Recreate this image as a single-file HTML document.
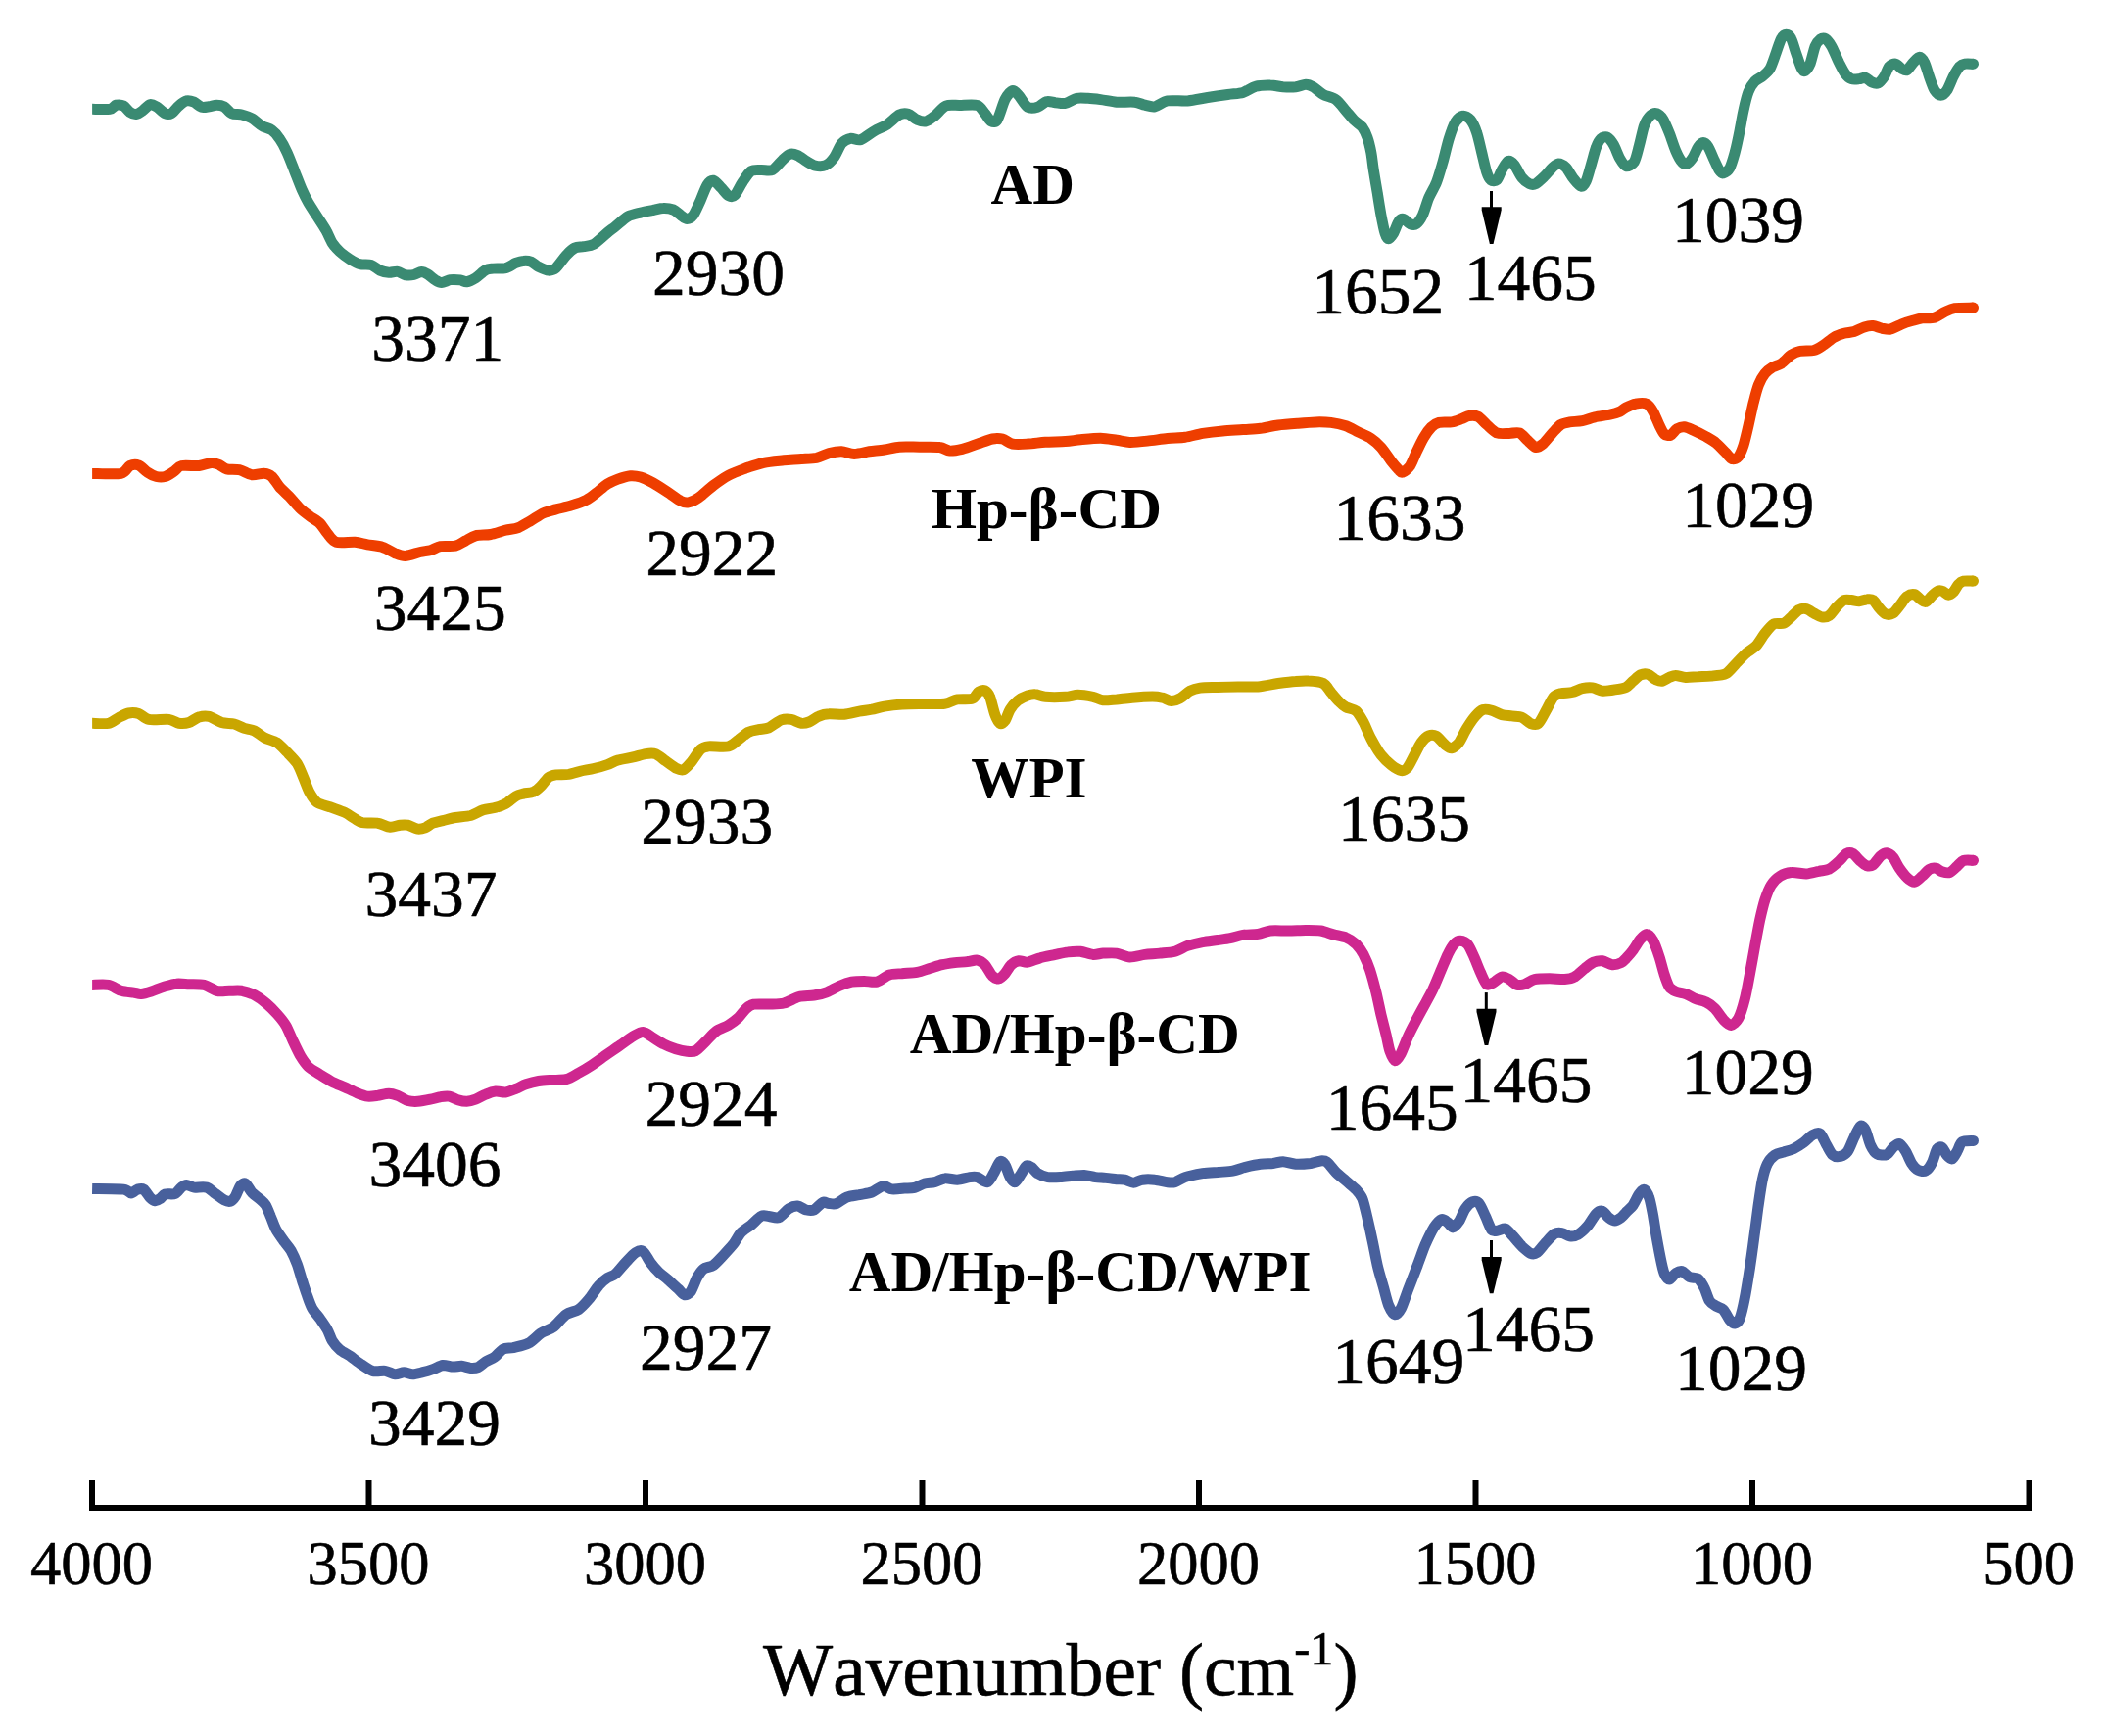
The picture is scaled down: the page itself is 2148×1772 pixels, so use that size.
<!DOCTYPE html>
<html lang="en"><head><meta charset="utf-8"><title>FTIR spectra</title>
<style>html,body{margin:0;padding:0;background:#fff}svg{display:block}</style></head>
<body>
<svg width="2148" height="1772" viewBox="0 0 2148 1772">
<rect width="2148" height="1772" fill="#fff"/>
<g fill="none" stroke-width="11" stroke-linejoin="round" stroke-linecap="butt">
<path stroke="#3A8A72" d="M94.1 111.3C96.6 111.3 108.7 111.9 112.1 111.3C115.5 110.8 116.5 107.7 118.5 107.2C120.5 106.8 124.2 107.0 126.2 108.0C128.2 109.0 130.8 113.2 132.6 114.4C134.4 115.6 137.2 116.7 139.0 116.5C140.8 116.3 143.5 114.5 145.4 113.1C147.4 111.8 151.2 107.3 153.1 106.7C155.1 106.1 157.4 107.5 159.6 108.8C161.7 110.0 166.4 114.7 168.5 115.7C170.7 116.7 173.0 116.8 175.0 115.7C176.9 114.6 180.5 109.8 182.7 108.0C184.8 106.2 188.2 103.4 190.4 102.9C192.5 102.3 195.9 103.3 198.1 104.2C200.2 105.1 203.6 108.6 205.8 109.3C207.9 109.9 211.3 109.1 213.5 108.8C215.6 108.5 219.0 107.2 221.2 107.2C223.3 107.2 226.7 107.6 228.9 108.8C231.0 110.0 234.0 114.6 236.6 115.7C239.1 116.9 244.0 116.3 246.8 117.0C249.7 117.7 254.2 119.2 257.1 120.8C260.0 122.5 264.5 126.9 267.4 128.5C270.2 130.2 275.1 131.1 277.6 132.9C280.1 134.7 283.2 138.2 285.3 141.4C287.5 144.5 290.9 150.8 293.0 155.5C295.2 160.2 298.6 169.4 300.7 174.7C302.9 180.1 306.4 189.5 308.4 194.0C310.4 198.5 312.7 203.1 314.8 206.8C317.0 210.6 321.3 217.0 323.8 220.9C326.3 224.9 330.6 231.3 332.8 235.1C335.0 238.8 337.2 244.8 339.2 247.9C341.2 250.9 344.4 254.5 346.9 256.9C349.4 259.2 354.3 262.8 357.2 264.6C360.1 266.4 364.4 268.9 367.5 269.7C370.5 270.5 376.1 269.6 379.0 270.5C381.9 271.4 385.5 275.0 388.0 276.1C390.5 277.2 394.5 278.0 397.0 278.2C399.5 278.4 403.6 277.0 406.0 277.4C408.3 277.8 411.3 280.3 413.7 280.7C416.0 281.2 420.3 281.0 422.6 280.5C425.0 280.0 428.4 277.5 430.3 277.4C432.3 277.3 434.8 278.8 436.7 280.0C438.7 281.2 442.5 284.7 444.4 285.9C446.4 287.1 448.7 288.5 450.9 288.4C453.0 288.4 457.2 286.0 459.8 285.6C462.5 285.3 467.8 285.6 470.1 285.9C472.4 286.2 474.4 288.0 476.5 287.7C478.7 287.4 482.8 285.5 485.5 283.8C488.2 282.1 493.3 277.0 495.8 275.6C498.3 274.2 500.6 274.4 503.5 274.1C506.4 273.8 513.1 274.3 516.3 273.6C519.5 272.8 524.1 269.4 526.6 268.4C529.1 267.4 532.1 266.5 534.3 266.4C536.4 266.2 539.8 266.3 542.0 267.1C544.1 268.0 547.2 271.0 549.7 272.3C552.2 273.5 557.4 275.9 559.9 276.1C562.5 276.3 565.1 275.7 567.6 273.6C570.2 271.4 575.2 263.6 577.9 260.7C580.6 257.8 584.4 254.3 586.9 253.0C589.4 251.8 593.2 252.3 595.9 251.7C598.6 251.2 602.8 251.1 606.1 249.2C609.5 247.2 616.9 240.1 620.0 237.6C623.1 235.1 625.3 233.5 628.2 231.2C631.2 228.9 637.5 222.9 641.1 220.9C644.7 219.0 650.3 218.0 653.9 217.1C657.5 216.2 663.5 215.2 666.7 214.5C670.0 213.9 674.1 212.5 677.0 212.5C679.9 212.4 684.7 213.0 687.3 214.0C689.8 215.0 693.0 218.3 695.0 219.7C696.9 221.0 699.6 223.5 701.4 223.5C703.2 223.5 706.0 222.0 707.8 219.7C709.6 217.3 712.2 211.1 714.2 206.8C716.2 202.5 719.9 192.0 721.9 188.9C723.9 185.7 726.4 183.9 728.3 184.2C730.3 184.6 733.9 189.3 736.0 191.4C738.2 193.6 741.8 198.6 743.7 199.6C745.7 200.7 748.2 201.0 750.1 199.1C752.1 197.3 755.5 189.7 757.8 186.3C760.2 182.9 764.1 176.5 766.8 174.7C769.5 172.9 774.0 173.6 777.1 173.5C780.1 173.3 785.6 174.9 788.6 173.5C791.7 172.0 796.4 165.5 798.9 163.2C801.4 160.9 804.5 157.9 806.6 157.3C808.8 156.6 812.0 157.6 814.3 158.6C816.6 159.6 820.8 163.0 823.3 164.5C825.8 166.0 829.6 168.5 832.3 169.1C835.0 169.7 839.8 170.0 842.5 168.8C845.2 167.7 849.2 163.8 851.5 160.6C853.9 157.5 856.9 149.2 859.2 146.5C861.6 143.8 865.5 141.9 868.2 141.4C870.9 140.8 875.1 143.7 878.5 142.7C881.9 141.6 888.8 135.8 892.6 133.7C896.4 131.5 901.8 129.6 905.4 127.3C909.0 124.9 915.2 118.5 918.3 117.0C921.3 115.5 924.7 115.5 927.2 116.2C929.7 116.9 933.7 121.1 936.2 122.1C938.7 123.2 942.7 124.5 945.2 123.9C947.7 123.4 951.3 120.5 954.2 118.3C957.1 116.1 962.1 109.5 965.7 108.0C969.3 106.5 975.4 107.6 979.8 107.5C984.3 107.4 994.2 106.4 997.8 107.5C1001.4 108.6 1003.5 113.4 1005.5 115.7C1007.5 118.0 1010.1 123.0 1011.9 123.9C1013.7 124.8 1016.4 125.3 1018.3 122.1C1020.3 119.0 1023.9 105.7 1026.0 101.6C1028.2 97.5 1031.8 93.2 1033.7 92.6C1035.7 92.1 1038.0 95.4 1040.2 97.7C1042.3 100.1 1046.4 107.7 1049.1 109.3C1051.8 110.9 1056.7 110.1 1059.4 109.3C1062.1 108.5 1065.9 104.3 1068.4 103.7C1070.9 103.0 1074.7 104.4 1077.4 104.7C1080.1 104.9 1084.6 106.1 1087.6 105.4C1090.7 104.8 1096.0 101.0 1099.2 100.3C1102.4 99.6 1107.3 100.1 1110.7 100.3C1114.2 100.5 1119.5 101.1 1123.6 101.6C1127.7 102.1 1135.1 103.8 1140.0 104.2C1144.9 104.5 1154.5 103.7 1158.5 104.2C1162.5 104.6 1165.9 106.6 1168.8 107.2C1171.6 107.9 1175.8 109.4 1179.0 108.8C1182.3 108.2 1187.2 103.7 1191.9 102.9C1196.5 102.1 1206.6 103.3 1212.4 102.9C1218.1 102.4 1227.2 100.4 1232.9 99.5C1238.7 98.6 1248.4 97.2 1253.5 96.5C1258.5 95.7 1264.9 95.6 1268.9 94.4C1272.8 93.3 1277.7 89.3 1281.7 88.3C1285.6 87.2 1293.1 86.9 1297.1 87.0C1301.0 87.0 1306.3 88.5 1309.9 88.8C1313.5 89.0 1319.5 89.1 1322.8 88.8C1326.0 88.4 1330.5 86.2 1333.0 86.2C1335.5 86.2 1338.2 87.3 1340.7 88.8C1343.2 90.2 1347.8 94.7 1351.0 96.5C1354.2 98.3 1360.6 99.3 1363.8 101.6C1367.1 103.9 1371.6 110.3 1374.1 113.1C1376.6 116.0 1379.5 119.8 1381.8 122.1C1384.1 124.5 1388.8 127.3 1390.8 129.8C1392.7 132.3 1394.6 136.5 1395.9 140.1C1397.2 143.7 1398.9 150.8 1399.8 155.5C1400.7 160.2 1401.4 167.7 1402.3 173.5C1403.2 179.2 1405.1 190.1 1406.2 196.6C1407.2 203.0 1408.9 213.9 1410.0 219.7C1411.1 225.4 1412.8 234.2 1413.9 237.6C1414.9 241.0 1416.5 243.8 1417.7 243.8C1419.0 243.8 1421.4 240.1 1422.9 237.6C1424.3 235.1 1426.5 228.1 1428.0 226.1C1429.4 224.1 1431.5 223.1 1433.1 223.5C1434.7 223.9 1437.7 227.9 1439.5 228.6C1441.3 229.4 1444.2 229.9 1446.0 228.6C1447.7 227.4 1450.6 223.4 1452.4 219.7C1454.2 215.9 1456.8 206.4 1458.8 201.7C1460.8 197.0 1464.5 191.3 1466.5 186.3C1468.5 181.3 1471.1 172.0 1472.9 165.8C1474.7 159.5 1477.5 147.1 1479.3 141.4C1481.1 135.6 1483.8 127.9 1485.7 124.7C1487.7 121.5 1491.3 118.6 1493.4 118.3C1495.6 117.9 1499.2 119.8 1501.1 122.1C1503.1 124.5 1505.9 130.3 1507.5 135.0C1509.2 139.6 1511.2 149.7 1512.7 155.5C1514.1 161.2 1516.5 172.1 1517.8 176.0C1519.1 180.0 1520.5 182.6 1521.9 183.7C1523.4 184.8 1526.5 185.2 1528.1 183.7C1529.7 182.3 1531.6 176.2 1533.2 173.5C1534.8 170.8 1537.8 165.2 1539.6 164.5C1541.4 163.8 1544.1 166.0 1546.0 168.3C1548.0 170.7 1551.6 178.5 1553.7 181.2C1555.9 183.9 1559.5 186.7 1561.4 187.6C1563.4 188.5 1565.7 188.7 1567.9 187.6C1570.0 186.5 1574.5 182.1 1576.8 179.9C1579.2 177.6 1582.6 173.2 1584.5 171.4C1586.5 169.6 1589.0 167.1 1591.0 167.0C1592.9 167.0 1596.5 168.7 1598.7 170.9C1600.8 173.0 1604.2 179.7 1606.4 182.4C1608.5 185.1 1612.3 189.8 1614.1 190.1C1615.9 190.5 1617.8 188.1 1619.2 185.0C1620.6 182.0 1622.9 173.2 1624.3 168.3C1625.8 163.5 1628.0 154.1 1629.5 150.4C1630.9 146.6 1633.0 142.8 1634.6 141.4C1636.2 139.9 1639.2 139.2 1641.0 140.1C1642.8 141.0 1645.6 144.7 1647.4 147.8C1649.2 150.8 1652.1 158.9 1653.8 161.9C1655.6 165.0 1658.0 169.1 1660.0 169.6C1662.0 170.1 1666.4 168.2 1668.3 165.3C1670.2 162.3 1672.0 153.8 1673.4 148.6C1674.9 143.4 1677.0 132.4 1678.6 128.1C1680.2 123.7 1683.2 119.5 1685.0 117.8C1686.8 116.1 1689.6 115.2 1691.4 115.7C1693.2 116.3 1696.0 118.8 1697.8 121.6C1699.6 124.4 1702.4 131.3 1704.2 135.8C1706.0 140.3 1708.9 149.6 1710.7 153.7C1712.5 157.9 1715.5 163.4 1717.1 165.3C1718.7 167.1 1720.6 167.8 1722.2 167.1C1723.8 166.4 1727.0 162.6 1728.6 160.1C1730.2 157.7 1732.3 151.9 1733.8 149.9C1735.2 147.8 1737.5 145.5 1738.9 145.5C1740.3 145.5 1742.4 147.3 1744.0 149.9C1745.6 152.5 1748.8 160.6 1750.4 164.0C1752.1 167.4 1754.3 172.5 1755.6 174.3C1756.8 176.1 1758.0 177.2 1759.4 176.8C1760.9 176.5 1764.2 174.6 1765.8 171.7C1767.5 168.8 1769.5 161.7 1771.0 156.3C1772.4 150.9 1774.9 139.3 1776.1 133.2C1777.4 127.1 1778.7 118.2 1780.0 112.7C1781.2 107.1 1783.5 97.5 1785.1 93.4C1786.7 89.3 1789.5 85.3 1791.5 83.1C1793.5 81.0 1797.1 79.8 1799.2 78.0C1801.4 76.2 1804.9 73.7 1806.9 70.3C1808.9 66.9 1811.7 57.9 1813.3 53.6C1814.9 49.3 1817.0 42.1 1818.5 39.5C1819.9 36.9 1822.2 35.2 1823.6 35.2C1825.0 35.2 1827.3 36.7 1828.7 39.5C1830.2 42.3 1832.4 50.8 1833.9 54.9C1835.3 59.0 1837.7 66.6 1839.0 69.0C1840.2 71.5 1841.6 72.9 1842.8 72.4C1844.1 71.8 1846.5 68.7 1848.0 65.2C1849.4 61.7 1851.7 50.7 1853.1 47.2C1854.5 43.7 1856.8 41.4 1858.2 40.3C1859.7 39.2 1861.8 38.5 1863.4 39.5C1865.0 40.5 1867.8 43.8 1869.8 47.2C1871.8 50.6 1875.5 59.9 1877.5 63.9C1879.5 67.8 1882.1 73.1 1883.9 75.4C1885.7 77.8 1888.3 79.9 1890.3 80.6C1892.3 81.3 1896.0 80.8 1898.0 80.6C1900.0 80.4 1902.6 78.8 1904.4 79.3C1906.2 79.8 1909.1 83.1 1910.9 83.9C1912.6 84.7 1915.5 85.8 1917.3 84.9C1919.1 84.1 1922.1 80.4 1923.7 78.0C1925.3 75.6 1927.2 69.5 1928.8 67.7C1930.4 66.0 1933.4 64.8 1935.2 65.2C1937.0 65.5 1940.0 69.4 1941.7 70.3C1943.3 71.2 1945.2 72.5 1946.8 71.6C1948.4 70.7 1951.4 65.8 1953.2 63.9C1955.0 62.0 1958.0 58.3 1959.6 58.3C1961.2 58.3 1963.3 61.0 1964.7 63.9C1966.2 66.8 1968.4 75.3 1969.9 79.3C1971.3 83.2 1973.4 89.6 1975.0 92.1C1976.6 94.6 1979.6 97.3 1981.4 97.3C1983.2 97.3 1986.1 94.8 1987.8 92.1C1989.6 89.4 1992.5 81.4 1994.3 78.0C1996.1 74.6 1999.1 69.5 2000.7 67.7C2002.3 66.0 2003.9 65.5 2005.8 65.2C2007.8 64.8 2013.3 65.2 2014.5 65.2"/>
<circle cx="2014.5" cy="65.2" r="5.5" fill="#3A8A72" stroke="none"/>
<path stroke="#EE3E00" d="M94.1 483.4C98.2 483.4 118.2 484.5 123.6 483.4C129.0 482.3 130.1 476.7 132.6 475.5C135.1 474.3 139.1 474.0 141.6 475.0C144.1 475.9 148.1 480.5 150.6 482.1C153.1 483.8 157.0 485.9 159.6 486.5C162.1 487.1 166.0 487.2 168.5 486.5C171.1 485.8 175.2 482.9 177.5 481.4C179.9 479.8 181.6 476.3 185.2 475.5C188.8 474.6 198.9 475.9 203.2 475.5C207.5 475.0 213.2 472.5 216.0 472.4C218.9 472.3 221.6 473.6 223.7 474.4C225.9 475.3 228.6 478.1 231.4 478.8C234.3 479.5 240.7 478.8 244.3 479.6C247.9 480.4 253.5 484.2 257.1 484.7C260.7 485.2 267.0 482.9 269.9 483.2C272.8 483.4 275.5 484.6 277.6 486.5C279.8 488.4 282.8 493.9 285.3 496.8C287.8 499.7 292.7 504.0 295.6 507.0C298.5 510.1 303.0 515.8 305.9 518.6C308.7 521.4 313.2 524.7 316.1 526.8C319.0 529.0 323.9 531.5 326.4 534.0C328.9 536.4 331.8 541.6 334.1 544.3C336.4 547.0 339.1 552.0 343.1 553.2C347.0 554.5 357.8 552.9 362.3 553.2C366.8 553.6 371.2 555.1 375.2 555.8C379.1 556.5 386.6 557.1 390.6 558.4C394.5 559.6 400.2 563.5 403.4 564.8C406.6 566.0 410.1 567.5 413.7 567.4C417.2 567.2 425.5 564.3 429.0 563.5C432.6 562.7 436.4 562.5 439.3 561.7C442.2 560.9 446.0 558.3 449.6 557.6C453.2 557.0 461.4 557.9 465.0 557.1C468.6 556.3 472.4 553.4 475.2 552.0C478.1 550.5 481.9 547.7 485.5 546.8C489.1 545.9 496.6 546.3 500.9 545.5C505.2 544.8 512.4 542.1 516.3 541.2C520.3 540.2 525.6 540.0 529.1 538.6C532.7 537.2 538.4 533.5 542.0 531.4C545.6 529.3 551.2 525.3 554.8 523.7C558.4 522.1 563.7 521.0 567.6 519.9C571.6 518.8 578.7 517.4 583.0 516.0C587.4 514.7 594.8 512.2 598.4 510.4C602.0 508.6 605.7 505.5 608.7 503.2C611.7 500.9 616.9 496.2 620.0 494.2C623.1 492.2 627.5 490.3 630.8 489.1C634.1 487.9 640.4 486.0 643.6 485.7C646.9 485.5 650.7 486.0 653.9 487.0C657.1 488.0 662.8 490.7 666.7 492.9C670.7 495.1 678.2 500.1 682.1 502.7C686.1 505.3 692.1 510.0 695.0 511.4C697.8 512.8 700.1 513.4 702.7 512.9C705.2 512.5 709.3 510.8 712.9 508.3C716.5 505.9 724.0 498.7 728.3 495.5C732.6 492.3 739.4 487.6 743.7 485.2C748.0 482.9 754.1 480.6 759.1 478.8C764.2 477.0 773.9 473.7 779.7 472.4C785.4 471.1 794.8 470.4 800.2 469.8C805.6 469.3 813.5 468.9 818.2 468.5C822.8 468.2 829.6 468.1 833.6 467.3C837.5 466.4 842.8 463.5 846.4 462.6C850.0 461.7 855.6 460.7 859.2 460.8C862.8 461.0 868.1 463.4 872.1 463.4C876.0 463.4 883.1 461.5 887.5 460.8C891.8 460.2 898.5 459.7 902.9 459.0C907.2 458.4 913.2 456.6 918.3 456.2C923.3 455.8 933.0 456.2 938.8 456.2C944.5 456.3 955.0 455.9 959.3 456.5C963.6 457.0 966.3 459.8 969.6 460.1C972.8 460.3 978.5 459.2 982.4 458.3C986.4 457.3 993.5 454.6 997.8 453.1C1002.1 451.7 1009.6 448.7 1013.2 448.0C1016.8 447.3 1020.6 447.3 1023.5 448.0C1026.4 448.7 1030.2 452.4 1033.7 453.1C1037.3 453.9 1044.5 453.4 1049.1 453.1C1053.8 452.9 1061.7 451.7 1067.1 451.3C1072.5 451.0 1082.6 450.9 1087.6 450.6C1092.7 450.2 1098.0 449.3 1103.0 448.8C1108.1 448.3 1118.4 447.2 1123.6 447.2C1128.7 447.3 1135.8 448.7 1140.0 449.3C1144.2 449.9 1149.0 451.3 1153.4 451.4C1157.8 451.5 1165.9 450.7 1171.3 450.1C1176.7 449.6 1186.5 448.1 1191.9 447.6C1197.3 447.0 1204.8 447.0 1209.8 446.3C1214.9 445.6 1222.4 443.3 1227.8 442.4C1233.2 441.5 1242.6 440.4 1248.3 439.9C1254.1 439.3 1263.5 439.0 1268.9 438.6C1274.2 438.2 1281.8 438.0 1286.8 437.3C1291.9 436.7 1299.4 434.7 1304.8 434.0C1310.2 433.3 1319.9 432.6 1325.3 432.2C1330.7 431.7 1338.6 431.0 1343.3 430.9C1348.0 430.8 1354.4 430.9 1358.7 431.4C1363.0 431.9 1370.1 433.4 1374.1 434.7C1378.0 436.1 1383.3 439.4 1386.9 441.2C1390.5 443.0 1396.5 445.4 1399.8 447.6C1403.0 449.7 1407.1 453.3 1410.0 456.6C1412.9 459.8 1417.8 467.4 1420.3 470.7C1422.8 473.9 1426.4 478.0 1428.0 479.7C1429.6 481.3 1430.2 482.8 1431.8 482.2C1433.5 481.7 1437.6 478.7 1439.5 475.8C1441.5 472.9 1444.0 465.8 1446.0 461.7C1447.9 457.6 1451.5 449.9 1453.7 446.3C1455.8 442.7 1459.2 438.1 1461.3 436.0C1463.5 433.9 1466.2 432.1 1469.0 431.4C1471.9 430.7 1478.6 431.4 1481.9 430.9C1485.1 430.4 1489.6 428.5 1492.1 427.6C1494.7 426.7 1497.5 424.8 1499.8 424.5C1502.2 424.2 1506.3 424.0 1508.8 425.2C1511.3 426.5 1515.1 431.1 1517.8 433.5C1520.5 435.8 1524.8 440.7 1528.1 441.9C1531.3 443.2 1537.7 442.4 1540.9 442.4C1544.1 442.4 1548.5 440.9 1551.2 441.9C1553.9 443.0 1557.8 448.1 1560.2 450.1C1562.5 452.2 1565.7 456.2 1567.9 456.6C1570.0 456.9 1573.2 454.7 1575.6 452.7C1577.9 450.7 1582.0 445.1 1584.5 442.4C1587.1 439.7 1591.0 435.1 1593.5 433.5C1596.0 431.8 1599.5 431.4 1602.5 430.9C1605.6 430.4 1611.7 430.3 1615.3 429.6C1618.9 428.9 1624.2 426.7 1628.2 425.8C1632.1 424.9 1640.0 424.0 1643.6 423.2C1647.2 422.4 1651.5 421.1 1653.8 420.1C1656.1 419.1 1657.8 417.1 1660.0 416.0C1662.2 414.9 1666.6 412.7 1669.6 412.2C1672.6 411.6 1678.6 411.1 1681.1 412.2C1683.7 413.3 1685.8 416.8 1687.6 419.9C1689.4 422.9 1692.4 430.8 1694.0 434.0C1695.6 437.2 1697.5 441.5 1699.1 443.0C1700.7 444.4 1703.7 445.0 1705.5 444.3C1707.3 443.5 1710.0 439.0 1711.9 437.8C1713.9 436.7 1717.3 435.6 1719.6 435.8C1722.0 436.0 1725.6 437.8 1728.6 439.1C1731.7 440.5 1738.2 443.7 1741.5 445.5C1744.7 447.3 1748.9 449.6 1751.7 452.0C1754.6 454.3 1759.7 459.9 1762.0 462.2C1764.3 464.6 1766.6 468.1 1768.4 468.6C1770.2 469.2 1773.2 468.1 1774.8 466.1C1776.4 464.1 1778.5 459.0 1780.0 454.5C1781.4 450.0 1783.7 440.1 1785.1 434.0C1786.5 427.9 1788.8 416.6 1790.2 410.9C1791.7 405.1 1793.7 397.1 1795.4 392.9C1797.0 388.8 1799.8 383.9 1801.8 381.4C1803.8 378.9 1807.1 376.4 1809.5 375.0C1811.8 373.5 1815.8 372.9 1818.5 371.1C1821.2 369.3 1826.0 363.9 1828.7 362.1C1831.4 360.3 1834.5 358.9 1837.7 358.3C1840.9 357.6 1848.4 358.4 1851.8 357.5C1855.2 356.6 1859.2 353.7 1862.1 351.9C1865.0 350.0 1869.5 345.8 1872.4 344.2C1875.2 342.5 1879.7 341.1 1882.6 340.3C1885.5 339.5 1890.0 339.4 1892.9 338.5C1895.8 337.6 1900.5 334.7 1903.2 333.9C1905.8 333.1 1909.6 332.4 1912.1 332.6C1914.7 332.8 1918.6 334.7 1921.1 335.2C1923.6 335.6 1927.2 336.6 1930.1 336.0C1933.0 335.3 1938.6 332.0 1941.7 330.8C1944.7 329.6 1949.0 328.3 1951.9 327.5C1954.8 326.7 1958.9 325.4 1962.2 324.9C1965.4 324.4 1971.8 325.0 1975.0 324.1C1978.2 323.2 1982.4 319.8 1985.3 318.5C1988.2 317.2 1991.5 315.3 1995.5 314.6C1999.6 314.0 2011.9 314.2 2014.5 314.1"/>
<circle cx="2014.5" cy="314.1" r="5.5" fill="#EE3E00" stroke="none"/>
<path stroke="#C9A600" d="M94.1 738.3C96.5 738.3 107.0 739.1 110.8 738.3C114.6 737.5 118.2 734.1 121.1 732.6C123.9 731.2 128.5 728.6 131.3 728.0C134.2 727.4 138.7 727.6 141.6 728.5C144.5 729.4 147.6 733.6 151.9 734.4C156.2 735.3 168.1 733.9 172.4 734.4C176.7 735.0 179.8 737.8 182.7 738.3C185.5 738.7 190.1 738.4 192.9 737.5C195.8 736.6 200.3 732.7 203.2 731.9C206.1 731.0 210.2 730.6 213.5 731.3C216.7 732.1 222.7 736.4 226.3 737.5C229.9 738.6 235.9 738.2 239.1 739.0C242.4 739.9 246.5 742.4 249.4 743.4C252.3 744.4 256.8 744.6 259.7 746.0C262.5 747.3 266.7 751.2 269.9 752.9C273.2 754.6 279.5 756.0 282.8 758.0C286.0 760.1 290.1 764.8 293.0 767.8C295.9 770.8 301.0 775.8 303.3 779.3C305.6 782.9 307.9 789.3 309.7 793.5C311.5 797.6 314.1 805.3 316.1 808.9C318.1 812.5 320.9 817.0 323.8 819.1C326.7 821.2 332.7 822.3 336.7 823.7C340.6 825.2 348.5 827.7 352.1 829.4C355.6 831.1 359.8 834.4 362.3 835.8C364.8 837.2 366.8 839.0 370.0 839.7C373.3 840.3 381.5 839.5 385.4 840.2C389.4 840.8 395.0 844.0 398.3 844.3C401.5 844.6 406.0 842.5 408.5 842.2C411.0 841.9 413.7 841.7 416.2 842.2C418.7 842.8 424.0 845.7 426.5 846.1C429.0 846.4 432.0 845.6 434.2 844.8C436.3 844.0 439.4 841.2 441.9 840.2C444.4 839.2 448.9 838.4 452.1 837.6C455.4 836.8 461.0 835.2 465.0 834.5C468.9 833.8 476.4 833.5 480.4 832.5C484.3 831.4 489.6 828.0 493.2 826.8C496.8 825.7 502.8 825.2 506.0 824.3C509.3 823.4 513.4 822.0 516.3 820.4C519.2 818.8 524.1 814.1 526.6 812.7C529.1 811.3 531.8 810.8 534.3 810.1C536.8 809.5 542.0 809.4 544.5 808.3C547.1 807.3 550.1 804.5 552.2 802.4C554.4 800.4 557.8 795.1 559.9 793.5C562.1 791.8 564.8 791.3 567.6 790.9C570.5 790.5 576.9 790.9 580.5 790.4C584.1 789.8 589.7 787.9 593.3 787.0C596.9 786.2 602.4 785.4 606.1 784.5C609.9 783.6 616.5 781.8 620.0 780.6C623.5 779.4 627.1 777.1 630.8 776.0C634.5 774.9 642.2 773.8 646.2 772.9C650.2 772.0 655.8 770.1 659.0 769.6C662.3 769.1 666.4 768.6 669.3 769.6C672.2 770.6 676.7 774.8 679.6 776.8C682.4 778.8 687.3 782.7 689.8 784.0C692.3 785.2 695.4 786.5 697.5 785.8C699.7 785.0 702.7 781.5 705.2 778.6C707.7 775.6 713.0 767.1 715.5 764.7C718.0 762.4 719.2 762.3 723.2 761.9C727.1 761.5 739.4 762.9 743.7 761.9C748.0 760.9 751.1 757.0 754.0 755.0C756.9 752.9 761.4 748.7 764.3 747.3C767.1 745.8 771.7 745.3 774.5 744.7C777.4 744.1 781.6 744.3 784.8 742.9C788.0 741.5 794.4 736.1 797.6 734.9C800.9 733.8 805.0 734.0 807.9 734.4C810.8 734.9 815.6 737.9 818.2 738.3C820.7 738.6 823.3 738.0 825.9 737.0C828.4 736.0 833.2 732.2 836.1 731.1C839.0 729.9 842.8 729.0 846.4 728.8C850.0 728.5 857.5 729.7 861.8 729.3C866.1 728.9 873.2 726.9 877.2 726.2C881.1 725.5 886.4 724.9 890.0 724.2C893.6 723.4 898.5 721.8 902.9 721.1C907.2 720.4 915.4 719.4 920.8 719.0C926.2 718.7 935.2 718.6 941.3 718.5C947.5 718.4 959.4 718.9 964.4 718.3C969.5 717.6 973.3 714.6 977.3 713.9C981.2 713.2 989.6 714.2 992.7 713.1C995.7 712.0 997.3 707.3 999.1 706.2C1000.9 705.0 1003.9 704.2 1005.5 704.9C1007.1 705.6 1009.2 707.9 1010.6 711.3C1012.1 714.7 1014.3 725.5 1015.8 729.3C1017.2 733.1 1019.5 737.4 1020.9 738.3C1022.3 739.2 1024.6 737.7 1026.0 735.7C1027.5 733.7 1029.4 727.0 1031.2 724.2C1033.0 721.3 1036.4 717.2 1038.9 715.2C1041.4 713.2 1046.6 710.9 1049.1 710.0C1051.7 709.1 1054.3 708.6 1056.8 708.8C1059.4 708.9 1062.8 711.0 1067.1 711.3C1071.4 711.7 1083.0 711.6 1087.6 711.3C1092.3 711.0 1096.5 709.3 1100.5 709.3C1104.4 709.3 1112.3 710.6 1115.9 711.3C1119.5 712.1 1122.8 714.3 1126.1 714.7C1129.5 715.0 1135.8 714.2 1140.0 713.9C1144.2 713.5 1150.8 712.6 1155.9 712.2C1161.0 711.7 1172.2 710.9 1176.5 710.9C1180.8 710.9 1184.0 711.5 1186.7 712.2C1189.4 712.8 1193.2 715.4 1195.7 715.5C1198.2 715.6 1202.0 714.4 1204.7 712.9C1207.4 711.5 1212.1 706.7 1215.0 705.2C1217.8 703.7 1221.3 702.7 1225.2 702.1C1229.2 701.6 1237.8 701.6 1243.2 701.4C1248.6 701.2 1258.0 700.9 1263.7 700.9C1269.5 700.8 1278.5 701.3 1284.3 700.9C1290.0 700.4 1299.4 698.3 1304.8 697.5C1310.2 696.8 1318.4 695.8 1322.8 695.5C1327.1 695.1 1331.6 694.7 1335.6 695.0C1339.5 695.2 1347.8 695.9 1351.0 697.5C1354.2 699.1 1356.5 704.0 1358.7 706.5C1360.8 709.0 1364.2 713.3 1366.4 715.5C1368.5 717.7 1371.6 720.5 1374.1 721.9C1376.6 723.3 1381.8 723.6 1384.4 725.8C1386.9 727.9 1389.9 733.4 1392.1 737.3C1394.2 741.3 1397.2 749.3 1399.8 754.0C1402.3 758.7 1407.1 766.9 1410.0 770.7C1412.9 774.4 1417.4 778.7 1420.3 780.9C1423.2 783.2 1428.2 786.2 1430.6 786.6C1432.9 786.9 1435.2 785.6 1437.0 783.5C1438.8 781.5 1441.4 775.6 1443.4 772.0C1445.4 768.4 1448.9 760.8 1451.1 757.8C1453.2 754.9 1456.6 751.8 1458.8 750.9C1460.9 750.0 1464.1 750.1 1466.5 751.4C1468.8 752.8 1473.3 758.7 1475.5 760.4C1477.6 762.1 1479.9 764.1 1481.9 763.7C1483.9 763.4 1487.4 760.6 1489.6 757.8C1491.7 755.0 1494.9 747.5 1497.3 743.7C1499.6 740.0 1503.9 733.6 1506.3 730.9C1508.6 728.2 1511.6 725.3 1514.0 724.5C1516.3 723.7 1520.3 724.5 1522.9 725.2C1525.6 726.0 1530.3 728.8 1533.2 729.6C1536.1 730.4 1540.6 730.5 1543.5 730.9C1546.4 731.3 1551.1 731.1 1553.7 732.2C1556.4 733.3 1560.4 737.7 1562.7 738.6C1565.1 739.5 1568.3 740.4 1570.4 738.6C1572.6 736.8 1576.0 729.5 1578.1 725.8C1580.3 722.0 1583.7 714.2 1585.8 711.6C1588.0 709.1 1590.8 708.5 1593.5 707.8C1596.2 707.1 1602.0 707.2 1605.1 706.5C1608.1 705.8 1612.5 703.3 1615.3 702.7C1618.2 702.0 1622.7 701.5 1625.6 701.9C1628.5 702.3 1632.6 704.9 1635.9 705.2C1639.1 705.5 1645.3 704.5 1648.7 703.9C1652.1 703.4 1657.4 702.6 1660.0 701.4C1662.6 700.2 1665.0 697.0 1667.0 695.3C1669.1 693.5 1672.6 689.8 1674.7 688.9C1676.9 687.9 1680.3 687.7 1682.4 688.3C1684.6 689.0 1688.2 692.5 1690.1 693.5C1692.1 694.4 1694.6 695.6 1696.5 695.3C1698.5 695.0 1702.3 692.3 1704.2 691.4C1706.2 690.6 1708.3 689.4 1710.7 689.4C1713.0 689.4 1717.7 691.2 1720.9 691.4C1724.2 691.6 1730.2 690.8 1733.8 690.7C1737.4 690.5 1742.6 690.6 1746.6 690.1C1750.5 689.7 1758.4 689.4 1762.0 687.6C1765.6 685.8 1769.4 680.2 1772.3 677.3C1775.1 674.4 1779.7 669.6 1782.5 667.0C1785.4 664.5 1790.1 662.2 1792.8 659.3C1795.5 656.5 1799.3 649.6 1801.8 646.5C1804.3 643.4 1808.1 638.5 1810.8 637.0C1813.5 635.6 1818.5 637.3 1821.0 636.2C1823.5 635.2 1826.6 631.7 1828.7 629.8C1830.9 627.9 1834.3 623.8 1836.4 622.6C1838.6 621.5 1842.0 621.1 1844.1 621.6C1846.3 622.1 1849.7 624.8 1851.8 626.0C1854.0 627.1 1857.4 629.5 1859.5 629.8C1861.7 630.2 1865.1 630.0 1867.2 628.5C1869.4 627.1 1872.8 621.8 1874.9 619.6C1877.1 617.3 1880.5 613.6 1882.6 612.6C1884.8 611.7 1888.2 612.5 1890.3 612.6C1892.5 612.8 1895.9 613.8 1898.0 613.7C1900.2 613.6 1903.7 612.0 1905.7 611.9C1907.7 611.7 1910.3 611.1 1912.1 612.4C1913.9 613.6 1916.8 618.8 1918.6 620.8C1920.3 622.9 1923.0 626.0 1925.0 626.7C1926.9 627.5 1930.5 627.3 1932.7 626.0C1934.8 624.6 1938.4 619.4 1940.4 617.0C1942.3 614.6 1944.8 610.2 1946.8 608.8C1948.8 607.3 1952.5 606.3 1954.5 606.7C1956.5 607.2 1959.3 610.8 1960.9 611.9C1962.5 612.9 1964.4 615.0 1966.0 614.4C1967.6 613.9 1970.7 609.6 1972.4 608.0C1974.2 606.4 1977.2 603.5 1978.9 602.9C1980.5 602.3 1982.6 603.0 1984.0 603.7C1985.4 604.3 1987.7 607.2 1989.1 607.2C1990.6 607.3 1992.8 605.7 1994.3 604.2C1995.7 602.7 1998.0 598.0 1999.4 596.5C2000.8 594.9 2002.4 593.6 2004.5 593.1C2006.7 592.7 2013.1 593.1 2014.5 593.1"/>
<circle cx="2014.5" cy="593.1" r="5.5" fill="#C9A600" stroke="none"/>
<path stroke="#CE278F" d="M94.1 1005.4C96.5 1005.4 106.7 1004.6 110.8 1005.4C114.9 1006.3 120.0 1010.3 123.6 1011.3C127.2 1012.4 133.6 1012.7 136.5 1013.1C139.3 1013.6 141.6 1014.6 144.2 1014.4C146.7 1014.2 151.2 1012.9 154.4 1011.9C157.7 1010.9 163.7 1008.3 167.3 1007.2C170.9 1006.2 176.5 1004.5 180.1 1004.2C183.7 1003.8 189.0 1004.5 192.9 1004.7C196.9 1004.9 204.4 1004.5 208.3 1005.4C212.3 1006.4 217.6 1010.5 221.2 1011.3C224.8 1012.2 230.4 1011.3 234.0 1011.3C237.6 1011.3 243.2 1010.7 246.8 1011.3C250.4 1012.0 256.1 1013.8 259.7 1015.7C263.3 1017.6 269.3 1022.0 272.5 1024.7C275.7 1027.4 280.1 1031.9 282.8 1035.0C285.5 1038.0 289.4 1042.6 291.7 1046.5C294.1 1050.5 297.3 1058.7 299.4 1063.2C301.6 1067.7 305.0 1075.0 307.1 1078.6C309.3 1082.2 312.1 1086.3 314.8 1088.9C317.5 1091.4 323.0 1094.4 326.4 1096.6C329.8 1098.7 335.6 1102.4 339.2 1104.3C342.8 1106.1 348.5 1108.3 352.1 1109.9C355.6 1111.5 361.7 1114.5 364.9 1115.8C368.1 1117.1 372.3 1118.8 375.2 1119.1C378.0 1119.5 382.4 1118.8 385.4 1118.4C388.5 1118.0 394.1 1116.3 397.0 1116.3C399.8 1116.3 403.3 1117.4 406.0 1118.4C408.6 1119.4 413.3 1122.7 416.2 1123.5C419.1 1124.3 423.2 1124.5 426.5 1124.3C429.7 1124.1 436.1 1122.9 439.3 1122.2C442.5 1121.6 446.9 1120.1 449.6 1119.7C452.3 1119.2 456.0 1118.7 458.6 1119.1C461.1 1119.6 465.0 1122.0 467.5 1122.7C470.1 1123.5 474.0 1124.3 476.5 1124.3C479.0 1124.2 482.8 1123.2 485.5 1122.2C488.2 1121.2 492.9 1118.2 495.8 1117.1C498.7 1115.9 503.2 1114.3 506.0 1114.0C508.9 1113.7 513.4 1115.4 516.3 1115.0C519.2 1114.7 523.7 1112.6 526.6 1111.4C529.5 1110.3 533.6 1107.9 536.8 1106.8C540.1 1105.7 546.1 1104.1 549.7 1103.5C553.3 1102.9 558.6 1102.7 562.5 1102.5C566.5 1102.2 574.0 1102.7 577.9 1101.7C581.9 1100.7 587.1 1097.3 590.7 1095.3C594.3 1093.3 599.5 1090.3 603.6 1087.6C607.7 1084.9 615.8 1078.9 620.0 1076.0C624.2 1073.1 629.7 1069.4 633.4 1066.8C637.0 1064.3 643.0 1059.7 646.2 1057.8C649.4 1056.0 653.6 1053.3 656.5 1053.5C659.3 1053.7 663.9 1057.4 666.7 1059.1C669.6 1060.8 673.8 1063.9 677.0 1065.5C680.2 1067.2 686.4 1069.6 689.8 1070.7C693.2 1071.8 698.5 1073.0 701.4 1073.2C704.3 1073.5 707.7 1073.9 710.4 1072.5C713.1 1071.0 717.8 1065.7 720.6 1063.0C723.5 1060.2 727.7 1055.0 730.9 1052.7C734.1 1050.4 740.5 1048.3 743.7 1046.3C747.0 1044.3 751.5 1040.9 754.0 1038.6C756.5 1036.3 759.5 1031.5 761.7 1029.6C763.8 1027.7 766.2 1025.9 769.4 1025.2C772.6 1024.6 780.5 1025.2 784.8 1025.0C789.1 1024.8 795.9 1025.0 800.2 1024.0C804.5 1022.9 811.3 1018.7 815.6 1017.5C819.9 1016.4 827.0 1016.7 831.0 1016.0C834.9 1015.4 840.2 1014.3 843.8 1012.9C847.4 1011.6 853.1 1008.0 856.7 1006.5C860.2 1005.0 865.9 1002.9 869.5 1002.1C873.1 1001.4 878.7 1001.4 882.3 1001.4C885.9 1001.4 891.6 1003.0 895.2 1002.1C898.7 1001.2 904.4 996.1 908.0 995.0C911.6 993.8 916.9 994.0 920.8 993.7C924.8 993.3 932.3 993.1 936.2 992.4C940.2 991.7 945.5 989.6 949.0 988.5C952.6 987.5 958.3 985.5 961.9 984.7C965.5 983.9 971.1 983.1 974.7 982.6C978.3 982.2 984.3 982.0 987.5 981.6C990.8 981.3 995.3 979.6 997.8 980.1C1000.3 980.5 1003.4 982.4 1005.5 984.7C1007.7 987.0 1011.2 994.3 1013.2 996.2C1015.2 998.2 1017.8 999.2 1019.6 998.8C1021.4 998.5 1024.2 995.7 1026.0 993.7C1027.8 991.7 1030.5 986.5 1032.5 984.7C1034.4 982.9 1037.8 981.2 1040.2 980.8C1042.5 980.5 1046.1 982.6 1049.1 982.1C1052.2 981.7 1058.0 978.8 1062.0 977.8C1065.9 976.7 1073.4 975.3 1077.4 974.4C1081.3 973.6 1086.6 972.3 1090.2 971.9C1093.8 971.4 1099.4 971.0 1103.0 971.3C1106.6 971.7 1112.6 974.2 1115.9 974.4C1119.1 974.7 1122.8 973.3 1126.1 973.1C1129.5 973.0 1136.2 972.6 1140.0 973.1C1143.8 973.7 1149.3 976.8 1153.4 977.0C1157.4 977.2 1164.5 975.0 1168.8 974.4C1173.1 973.9 1179.9 973.6 1184.2 973.1C1188.5 972.7 1195.6 972.4 1199.6 971.3C1203.5 970.3 1208.4 966.8 1212.4 965.4C1216.3 964.1 1223.5 962.4 1227.8 961.6C1232.1 960.8 1239.2 960.1 1243.2 959.5C1247.1 959.0 1252.4 958.5 1256.0 957.7C1259.6 957.0 1264.9 955.0 1268.9 954.4C1272.8 953.8 1280.3 954.0 1284.3 953.4C1288.2 952.8 1292.8 950.5 1297.1 950.0C1301.4 949.6 1310.0 950.1 1315.1 950.0C1320.1 950.0 1328.4 949.5 1333.0 949.5C1337.7 949.5 1344.5 949.4 1348.4 950.0C1352.4 950.7 1357.7 952.9 1361.3 953.9C1364.8 954.9 1370.9 955.6 1374.1 957.0C1377.3 958.3 1381.8 961.2 1384.4 963.7C1386.9 966.1 1390.1 970.8 1392.1 974.4C1394.0 978.1 1396.7 984.4 1398.5 989.8C1400.3 995.2 1403.3 1006.5 1404.9 1012.9C1406.5 1019.4 1408.6 1029.9 1410.0 1036.0C1411.5 1042.1 1413.9 1051.3 1415.2 1056.6C1416.4 1061.8 1417.7 1069.6 1419.0 1073.2C1420.3 1076.9 1422.6 1082.4 1424.1 1082.7C1425.7 1083.1 1428.2 1079.1 1430.0 1075.8C1431.8 1072.5 1434.9 1063.6 1437.0 1059.1C1439.0 1054.6 1442.3 1048.2 1444.7 1043.7C1447.0 1039.2 1451.1 1031.7 1453.7 1027.0C1456.2 1022.4 1460.3 1015.2 1462.6 1010.4C1465.0 1005.5 1468.2 997.4 1470.3 992.4C1472.5 987.4 1476.1 978.5 1478.0 974.4C1480.0 970.4 1482.7 965.6 1484.4 963.7C1486.2 961.7 1488.9 960.2 1490.9 960.3C1492.8 960.4 1496.6 961.8 1498.6 964.2C1500.5 966.5 1503.2 973.0 1505.0 977.0C1506.8 980.9 1509.6 988.5 1511.4 992.4C1513.2 996.3 1516.0 1003.2 1517.8 1004.7C1519.6 1006.2 1522.1 1004.3 1524.2 1003.2C1526.4 1002.1 1530.9 997.5 1533.2 997.0C1535.5 996.5 1538.8 998.4 1540.9 999.6C1543.1 1000.7 1546.5 1004.5 1548.6 1005.2C1550.8 1005.9 1553.8 1005.5 1556.3 1004.7C1558.8 1003.9 1563.0 1000.4 1566.6 999.6C1570.2 998.8 1577.7 998.8 1582.0 998.8C1586.3 998.8 1593.8 999.8 1597.4 999.6C1601.0 999.3 1604.8 998.6 1607.6 997.0C1610.5 995.5 1615.2 990.6 1617.9 988.5C1620.6 986.5 1624.4 983.2 1626.9 982.1C1629.4 981.1 1633.2 980.5 1635.9 980.8C1638.6 981.2 1643.4 984.4 1646.1 984.7C1648.8 984.9 1653.2 983.5 1655.1 982.6C1657.1 981.7 1658.3 980.0 1660.0 978.3C1661.7 976.5 1665.0 972.9 1667.0 970.1C1669.1 967.4 1672.8 960.9 1674.7 958.6C1676.7 956.3 1679.3 953.3 1681.1 953.5C1682.9 953.6 1685.8 956.6 1687.6 959.9C1689.4 963.1 1692.4 971.7 1694.0 976.6C1695.6 981.4 1697.7 990.2 1699.1 994.5C1700.5 998.8 1702.6 1004.9 1704.2 1007.4C1705.9 1009.8 1708.3 1011.0 1710.7 1012.0C1713.0 1013.0 1718.1 1013.5 1720.9 1014.5C1723.8 1015.6 1728.3 1018.5 1731.2 1019.7C1734.1 1020.8 1738.8 1021.4 1741.5 1022.8C1744.2 1024.1 1747.9 1026.7 1750.4 1029.2C1753.0 1031.7 1757.1 1038.3 1759.4 1040.7C1761.8 1043.1 1765.0 1046.5 1767.1 1046.4C1769.3 1046.2 1772.8 1043.1 1774.8 1039.4C1776.8 1035.8 1779.6 1026.5 1781.2 1020.2C1782.9 1013.9 1784.9 1002.1 1786.4 994.5C1787.8 987.0 1790.1 974.0 1791.5 966.3C1792.9 958.6 1795.2 946.0 1796.6 939.3C1798.1 932.7 1800.2 923.8 1801.8 918.8C1803.4 913.8 1806.0 906.8 1808.2 903.4C1810.3 900.0 1814.3 896.2 1817.2 894.4C1820.0 892.6 1824.9 890.9 1828.7 890.6C1832.5 890.2 1840.2 892.0 1844.1 891.9C1848.1 891.7 1853.7 889.9 1857.0 889.3C1860.2 888.6 1864.3 888.7 1867.2 887.2C1870.1 885.8 1875.0 881.3 1877.5 879.0C1880.0 876.8 1883.2 872.4 1885.2 871.3C1887.2 870.3 1889.6 870.3 1891.6 871.3C1893.6 872.4 1897.3 877.3 1899.3 879.0C1901.3 880.8 1903.9 883.1 1905.7 883.7C1907.5 884.2 1910.2 884.2 1912.1 882.9C1914.1 881.5 1917.9 875.6 1919.8 873.9C1921.8 872.2 1924.5 870.6 1926.3 870.8C1928.0 871.0 1930.9 873.0 1932.7 875.2C1934.5 877.3 1937.1 883.3 1939.1 886.2C1941.1 889.1 1944.6 893.7 1946.8 895.7C1948.9 897.7 1952.3 900.5 1954.5 900.3C1956.6 900.2 1960.0 896.3 1962.2 894.4C1964.3 892.6 1967.9 888.4 1969.9 887.2C1971.9 886.1 1974.5 885.9 1976.3 886.2C1978.1 886.6 1980.7 889.2 1982.7 889.8C1984.7 890.4 1988.3 891.4 1990.4 890.6C1992.6 889.8 1996.1 885.9 1998.1 884.2C2000.1 882.5 2002.2 879.3 2004.5 878.5C2006.8 877.7 2013.1 878.3 2014.5 878.3"/>
<circle cx="2014.5" cy="878.3" r="5.5" fill="#CE278F" stroke="none"/>
<path stroke="#48609C" d="M94.1 1213.4C98.6 1213.5 120.6 1213.5 126.2 1214.1C131.8 1214.8 131.9 1218.0 133.9 1218.0C135.9 1218.0 138.5 1214.7 140.3 1214.1C142.1 1213.6 144.9 1213.0 146.7 1214.1C148.5 1215.3 151.5 1220.7 153.1 1222.3C154.8 1224.0 156.8 1225.5 158.3 1225.7C159.7 1225.9 162.0 1224.6 163.4 1223.6C164.8 1222.7 166.4 1219.7 168.5 1219.0C170.7 1218.3 176.5 1219.5 178.8 1218.5C181.1 1217.5 183.6 1213.3 185.2 1212.1C186.8 1210.8 188.6 1209.5 190.4 1209.5C192.2 1209.5 195.2 1211.7 198.1 1212.1C200.9 1212.4 207.8 1211.2 210.9 1212.1C213.9 1213.0 217.4 1216.7 219.9 1218.5C222.4 1220.3 226.7 1223.8 228.9 1224.9C231.0 1226.0 233.7 1226.7 235.3 1226.2C236.9 1225.7 239.0 1223.3 240.4 1221.1C241.8 1218.8 244.1 1212.1 245.5 1210.3C247.0 1208.5 249.1 1207.3 250.7 1208.2C252.3 1209.2 255.1 1215.1 257.1 1217.2C259.1 1219.4 262.8 1221.8 264.8 1223.6C266.8 1225.4 269.6 1227.5 271.2 1230.0C272.8 1232.6 274.9 1238.2 276.3 1241.6C277.8 1245.0 279.7 1251.0 281.5 1254.4C283.3 1257.8 287.0 1262.9 289.2 1266.0C291.3 1269.0 294.9 1272.8 296.9 1276.2C298.8 1279.7 301.7 1286.0 303.3 1290.4C304.9 1294.7 307.0 1302.6 308.4 1307.0C309.9 1311.5 312.1 1318.5 313.6 1322.4C315.0 1326.4 316.9 1332.0 318.7 1335.3C320.5 1338.5 324.2 1342.5 326.4 1345.5C328.5 1348.6 332.3 1353.9 334.1 1357.1C335.9 1360.3 337.4 1365.8 339.2 1368.6C341.0 1371.5 344.4 1375.5 346.9 1377.6C349.4 1379.8 354.3 1382.1 357.2 1384.0C360.1 1386.0 364.2 1389.6 367.5 1391.7C370.7 1393.9 376.7 1398.4 380.3 1399.4C383.9 1400.5 389.9 1399.0 393.1 1399.4C396.4 1399.9 400.7 1402.6 403.4 1402.8C406.1 1403.0 409.9 1400.7 412.4 1400.7C414.9 1400.7 418.7 1402.8 421.3 1402.8C424.0 1402.8 428.7 1401.4 431.6 1400.7C434.5 1400.0 439.0 1398.6 441.9 1397.6C444.8 1396.6 449.3 1393.9 452.1 1393.5C455.0 1393.2 459.7 1395.0 462.4 1395.1C465.1 1395.2 468.9 1394.1 471.4 1394.3C473.9 1394.5 478.0 1396.2 480.4 1396.4C482.7 1396.5 485.9 1396.5 488.1 1395.6C490.2 1394.7 493.4 1391.4 495.8 1389.9C498.1 1388.5 502.2 1387.1 504.8 1385.3C507.3 1383.5 511.1 1378.5 513.7 1377.1C516.4 1375.7 520.4 1376.4 524.0 1375.6C527.6 1374.7 535.5 1373.3 539.4 1371.2C543.4 1369.2 548.7 1363.3 552.2 1360.9C555.8 1358.6 561.5 1357.2 565.1 1354.5C568.7 1351.8 574.3 1344.2 577.9 1341.7C581.5 1339.2 587.5 1338.7 590.7 1336.6C594.0 1334.4 598.1 1329.7 601.0 1326.3C603.9 1322.9 608.6 1315.2 611.3 1312.2C613.9 1309.1 617.6 1306.1 620.0 1304.5C622.4 1302.8 625.6 1302.6 628.2 1300.4C630.8 1298.2 635.6 1291.9 638.5 1288.9C641.4 1285.8 646.2 1280.2 648.8 1278.6C651.3 1277.0 654.3 1275.9 656.5 1277.3C658.6 1278.7 662.0 1286.0 664.2 1288.9C666.3 1291.7 669.3 1295.4 671.9 1297.8C674.4 1300.3 679.3 1303.8 682.1 1306.3C685.0 1308.8 690.1 1313.7 692.4 1315.8C694.7 1318.0 697.0 1321.4 698.8 1321.7C700.6 1322.1 703.4 1320.8 705.2 1318.4C707.0 1315.9 709.8 1307.5 711.6 1304.3C713.4 1301.0 715.7 1297.1 718.1 1295.3C720.4 1293.5 725.5 1293.4 728.3 1291.4C731.2 1289.4 735.7 1284.2 738.6 1281.2C741.5 1278.1 746.3 1272.8 748.9 1269.6C751.4 1266.4 754.0 1260.8 756.6 1258.1C759.1 1255.4 764.0 1252.7 766.8 1250.4C769.7 1248.0 774.6 1242.6 777.1 1241.4C779.6 1240.1 782.3 1241.2 784.8 1241.4C787.3 1241.6 792.2 1243.7 795.1 1242.7C797.9 1241.6 802.6 1235.3 805.3 1233.7C808.0 1232.1 811.8 1230.9 814.3 1231.1C816.8 1231.3 821.0 1234.4 823.3 1235.0C825.6 1235.5 828.7 1236.0 831.0 1235.0C833.3 1233.9 837.8 1228.2 840.0 1227.3C842.1 1226.4 844.4 1228.4 846.4 1228.5C848.4 1228.7 851.6 1229.4 854.1 1228.5C856.6 1227.6 861.1 1223.4 864.4 1222.1C867.6 1220.9 873.6 1220.3 877.2 1219.6C880.8 1218.8 886.6 1218.3 890.0 1217.0C893.4 1215.7 898.7 1211.0 901.6 1210.6C904.4 1210.1 907.5 1213.6 910.6 1213.9C913.6 1214.3 920.2 1213.4 923.4 1213.1C926.6 1212.9 930.8 1213.1 933.7 1212.4C936.5 1211.7 941.0 1208.8 943.9 1208.0C946.8 1207.2 951.3 1207.4 954.2 1206.7C957.1 1206.0 961.2 1203.2 964.4 1202.9C967.7 1202.5 973.7 1204.3 977.3 1204.2C980.9 1204.0 987.2 1202.0 990.1 1201.6C993.0 1201.2 995.3 1200.9 997.8 1201.6C1000.3 1202.3 1005.7 1207.3 1008.1 1206.7C1010.4 1206.2 1012.7 1200.7 1014.5 1197.7C1016.3 1194.8 1019.3 1186.9 1020.9 1185.7C1022.5 1184.4 1024.6 1186.5 1026.0 1188.8C1027.5 1191.0 1029.7 1199.1 1031.2 1201.6C1032.6 1204.1 1034.7 1207.3 1036.3 1206.7C1037.9 1206.2 1041.1 1200.1 1042.7 1197.7C1044.3 1195.4 1046.4 1190.9 1047.9 1190.0C1049.3 1189.1 1051.4 1190.3 1053.0 1191.3C1054.6 1192.4 1057.1 1196.3 1059.4 1197.7C1061.7 1199.2 1066.4 1201.1 1069.7 1201.6C1072.9 1202.1 1078.9 1201.8 1082.5 1201.6C1086.1 1201.4 1091.9 1200.6 1095.3 1200.3C1098.8 1200.0 1103.7 1199.4 1106.9 1199.5C1110.1 1199.7 1115.4 1201.2 1118.4 1201.6C1121.5 1202.0 1125.7 1202.1 1128.7 1202.4C1131.7 1202.7 1137.3 1203.4 1140.0 1203.7C1142.7 1203.9 1145.8 1203.7 1148.2 1204.2C1150.6 1204.7 1154.7 1207.2 1157.2 1207.2C1159.7 1207.2 1163.1 1204.6 1166.2 1204.2C1169.3 1203.7 1175.4 1203.8 1179.0 1204.2C1182.6 1204.5 1189.0 1206.4 1191.9 1206.7C1194.7 1207.1 1197.0 1207.4 1199.6 1206.7C1202.1 1206.0 1205.9 1202.9 1209.8 1201.6C1213.8 1200.3 1223.1 1198.5 1227.8 1197.7C1232.5 1197.0 1238.9 1196.8 1243.2 1196.5C1247.5 1196.1 1254.6 1195.9 1258.6 1195.2C1262.5 1194.5 1267.5 1192.3 1271.4 1191.3C1275.4 1190.4 1282.9 1188.8 1286.8 1188.3C1290.8 1187.7 1296.4 1187.8 1299.7 1187.5C1302.9 1187.1 1306.7 1185.6 1309.9 1185.7C1313.2 1185.8 1318.8 1188.0 1322.8 1188.3C1326.7 1188.5 1334.6 1187.9 1338.2 1187.5C1341.7 1187.0 1346.1 1185.1 1348.4 1184.9C1350.8 1184.7 1352.7 1184.6 1354.8 1186.2C1357.0 1187.8 1361.1 1193.8 1363.8 1196.5C1366.5 1199.2 1371.2 1202.9 1374.1 1205.4C1377.0 1208.0 1382.0 1211.9 1384.4 1214.4C1386.7 1216.9 1389.2 1219.5 1390.8 1223.4C1392.4 1227.4 1394.5 1236.7 1395.9 1242.7C1397.3 1248.6 1399.6 1258.9 1401.0 1265.8C1402.5 1272.6 1404.6 1284.6 1406.2 1291.4C1407.8 1298.3 1411.0 1308.8 1412.6 1314.5C1414.2 1320.3 1416.1 1328.7 1417.7 1332.5C1419.3 1336.3 1422.3 1341.4 1424.1 1341.7C1425.9 1342.1 1428.6 1338.9 1430.6 1335.1C1432.5 1331.2 1435.9 1320.6 1438.3 1314.5C1440.6 1308.4 1444.9 1297.5 1447.2 1291.4C1449.6 1285.3 1452.6 1276.3 1454.9 1270.9C1457.3 1265.5 1461.6 1256.6 1463.9 1252.9C1466.3 1249.3 1469.6 1245.4 1471.6 1244.7C1473.6 1244.0 1476.4 1246.6 1478.0 1247.8C1479.6 1248.9 1481.5 1253.1 1483.2 1252.9C1484.8 1252.7 1487.8 1249.2 1489.6 1246.5C1491.4 1243.8 1494.0 1236.4 1496.0 1233.7C1498.0 1230.9 1501.7 1227.5 1503.7 1226.7C1505.7 1226.0 1508.3 1226.5 1510.1 1228.5C1511.9 1230.6 1514.7 1237.6 1516.5 1241.4C1518.3 1245.2 1521.2 1253.4 1522.9 1255.5C1524.7 1257.5 1527.4 1256.2 1529.4 1256.0C1531.3 1255.8 1534.9 1253.4 1537.1 1254.2C1539.2 1255.0 1542.4 1259.4 1544.8 1261.9C1547.1 1264.4 1551.2 1269.7 1553.7 1272.2C1556.3 1274.6 1560.6 1278.5 1562.7 1279.4C1564.9 1280.3 1567.0 1280.1 1569.1 1278.6C1571.3 1277.0 1575.6 1271.0 1578.1 1268.3C1580.6 1265.6 1584.8 1260.7 1587.1 1259.3C1589.4 1258.0 1592.7 1258.2 1594.8 1258.6C1597.0 1258.9 1600.4 1261.6 1602.5 1261.9C1604.7 1262.2 1607.7 1262.1 1610.2 1260.6C1612.7 1259.2 1617.8 1254.7 1620.5 1251.6C1623.2 1248.6 1627.3 1241.0 1629.5 1238.8C1631.6 1236.7 1634.1 1235.7 1635.9 1236.2C1637.7 1236.8 1640.5 1241.3 1642.3 1242.7C1644.1 1244.0 1646.9 1246.0 1648.7 1246.0C1650.5 1246.0 1653.5 1243.8 1655.1 1242.7C1656.7 1241.5 1658.3 1239.3 1660.0 1237.5C1661.7 1235.8 1665.1 1233.0 1667.0 1230.4C1668.9 1227.7 1671.8 1221.0 1673.4 1218.8C1675.1 1216.6 1677.1 1213.9 1678.6 1214.4C1680.0 1215.0 1682.5 1219.0 1683.7 1222.7C1685.0 1226.3 1686.5 1234.9 1687.6 1240.6C1688.6 1246.4 1690.3 1257.6 1691.4 1263.7C1692.5 1269.8 1694.2 1279.2 1695.3 1284.3C1696.3 1289.3 1697.9 1296.6 1699.1 1299.7C1700.4 1302.7 1702.6 1306.1 1704.2 1306.1C1705.9 1306.1 1708.9 1300.8 1710.7 1299.7C1712.5 1298.5 1715.1 1297.1 1717.1 1297.6C1719.1 1298.1 1722.4 1302.4 1724.8 1303.5C1727.1 1304.6 1731.6 1303.7 1733.8 1305.3C1735.9 1306.9 1738.6 1311.9 1740.2 1315.1C1741.8 1318.2 1743.7 1325.4 1745.3 1327.9C1746.9 1330.4 1749.8 1331.8 1751.7 1333.0C1753.7 1334.3 1757.4 1334.9 1759.4 1336.9C1761.4 1338.8 1764.2 1345.2 1765.8 1347.1C1767.5 1349.1 1769.5 1351.2 1771.0 1351.0C1772.4 1350.8 1774.7 1349.4 1776.1 1345.9C1777.5 1342.3 1779.8 1332.5 1781.2 1325.3C1782.7 1318.1 1785.0 1303.1 1786.4 1294.5C1787.7 1285.9 1789.6 1272.3 1790.7 1263.7C1791.9 1255.1 1793.7 1241.2 1794.8 1232.9C1796.0 1224.7 1797.9 1211.0 1799.2 1204.7C1800.5 1198.4 1802.5 1191.6 1804.3 1188.0C1806.1 1184.4 1809.7 1180.7 1812.0 1179.0C1814.4 1177.3 1818.3 1176.8 1821.0 1176.0C1823.7 1175.1 1828.4 1174.0 1831.3 1172.6C1834.2 1171.2 1838.9 1168.2 1841.6 1166.2C1844.2 1164.2 1848.2 1159.8 1850.5 1158.5C1852.9 1157.2 1856.3 1155.8 1858.2 1157.2C1860.2 1158.7 1862.9 1165.7 1864.7 1168.8C1866.5 1171.8 1869.1 1177.4 1871.1 1179.0C1873.0 1180.6 1876.6 1180.9 1878.8 1180.3C1880.9 1179.8 1884.5 1177.9 1886.5 1175.2C1888.4 1172.5 1891.1 1164.7 1892.9 1161.1C1894.7 1157.5 1897.7 1150.6 1899.3 1149.5C1900.9 1148.4 1903.0 1150.7 1904.4 1153.4C1905.9 1156.1 1908.0 1165.4 1909.6 1168.8C1911.2 1172.2 1913.6 1176.4 1916.0 1177.7C1918.3 1179.1 1923.9 1179.4 1926.3 1178.5C1928.6 1177.6 1930.9 1172.9 1932.7 1171.3C1934.5 1169.8 1937.3 1166.9 1939.1 1167.5C1940.9 1168.0 1943.7 1172.3 1945.5 1175.2C1947.3 1178.1 1950.1 1185.3 1951.9 1188.0C1953.7 1190.7 1956.4 1193.5 1958.3 1194.4C1960.3 1195.4 1964.1 1196.0 1966.0 1194.9C1968.0 1193.9 1970.8 1189.9 1972.4 1186.7C1974.1 1183.6 1976.1 1174.8 1977.6 1172.6C1979.0 1170.5 1981.3 1170.4 1982.7 1171.3C1984.2 1172.3 1986.4 1177.9 1987.8 1179.5C1989.3 1181.2 1991.5 1183.5 1993.0 1182.9C1994.4 1182.3 1996.7 1177.6 1998.1 1175.2C1999.6 1172.8 2000.9 1167.2 2003.2 1165.7C2005.5 1164.2 2013.0 1164.6 2014.5 1164.4"/>
<circle cx="2014.5" cy="1164.4" r="5.5" fill="#48609C" stroke="none"/>
</g>
<g stroke="#000" stroke-width="6" fill="none">
<path d="M91.0 1539.0 H2074.5"/>
<path d="M94.0 1511.0 V1539.0"/>
<path d="M376.5 1511.0 V1539.0"/>
<path d="M659.0 1511.0 V1539.0"/>
<path d="M941.5 1511.0 V1539.0"/>
<path d="M1224.0 1511.0 V1539.0"/>
<path d="M1506.5 1511.0 V1539.0"/>
<path d="M1789.0 1511.0 V1539.0"/>
<path d="M2071.5 1511.0 V1539.0"/>
</g>
<g font-family="'Liberation Serif', 'Times New Roman', serif" fill="#000" stroke="#000" stroke-width="0.6" stroke-linejoin="round" style="font-kerning:none">
<text x="93.5" y="1616.8" font-size="62.5" text-anchor="middle">4000</text>
<text x="376.0" y="1616.8" font-size="62.5" text-anchor="middle">3500</text>
<text x="658.5" y="1616.8" font-size="62.5" text-anchor="middle">3000</text>
<text x="941.0" y="1616.8" font-size="62.5" text-anchor="middle">2500</text>
<text x="1223.5" y="1616.8" font-size="62.5" text-anchor="middle">2000</text>
<text x="1506.0" y="1616.8" font-size="62.5" text-anchor="middle">1500</text>
<text x="1788.5" y="1616.8" font-size="62.5" text-anchor="middle">1000</text>
<text x="2071.0" y="1616.8" font-size="62.5" text-anchor="middle">500</text>
<text x="779" y="1730.3" font-size="75.4">Wavenumber (cm<tspan font-size="48.4" dy="-31.8">-1</tspan><tspan dy="31.8">)</tspan></text>
<text id="L0" x="379.3" y="367.7" font-size="67.5">3371</text>
<text id="L1" x="666.1" y="300.5" font-size="67.5">2930</text>
<text id="L2" x="1011.4" y="207.5" font-size="59.2" font-weight="bold" stroke="none">AD</text>
<text id="L3" x="1339.2" y="320.0" font-size="67.5">1652</text>
<text id="L4" x="1494.7" y="306.2" font-size="67.5">1465</text>
<text id="L5" x="1707.0" y="246.8" font-size="67.5">1039</text>
<text id="L6" x="381.7" y="643.2" font-size="67.5">3425</text>
<text id="L7" x="659.2" y="587.4" font-size="67.5">2922</text>
<text id="L8" x="950.9" y="538.7" font-size="59.2" font-weight="bold" stroke="none">Hp-β-CD</text>
<text id="L9" x="1361.5" y="551.1" font-size="67.5">1633</text>
<text id="L10" x="1717.3" y="537.5" font-size="67.5">1029</text>
<text id="L11" x="372.4" y="935.4" font-size="67.5">3437</text>
<text id="L12" x="654.2" y="860.5" font-size="67.5">2933</text>
<text id="L13" x="991.2" y="814.2" font-size="59.2" font-weight="bold" stroke="none">WPI</text>
<text id="L14" x="1365.9" y="858.2" font-size="67.5">1635</text>
<text id="L15" x="376.4" y="1210.5" font-size="67.5">3406</text>
<text id="L16" x="658.5" y="1148.5" font-size="67.5">2924</text>
<text id="L17" x="928.8" y="1075.3" font-size="59.2" font-weight="bold" stroke="none">AD/Hp-β-CD</text>
<text id="L18" x="1353.8" y="1152.8" font-size="67.5">1645</text>
<text id="L19" x="1490.4" y="1125.4" font-size="67.5">1465</text>
<text id="L20" x="1716.7" y="1116.5" font-size="67.5">1029</text>
<text id="L21" x="376.1" y="1475.1" font-size="67.5">3429</text>
<text id="L22" x="653.1" y="1397.9" font-size="67.5">2927</text>
<text id="L23" x="866.7" y="1318.0" font-size="59.2" font-weight="bold" stroke="none">AD/Hp-β-CD/WPI</text>
<text id="L24" x="1360.2" y="1411.6" font-size="67.5">1649</text>
<text id="L25" x="1493.0" y="1379.0" font-size="67.5">1465</text>
<text id="L26" x="1709.9" y="1418.7" font-size="67.5">1029</text>
</g>
<path d="M1522.5 195.0 V212.2" stroke="#000" stroke-width="3" fill="none"/>
<path d="M1512.7 211.2 H1532.7 V214.5 L1524.5 249.0 H1520.9 L1512.7 214.5 Z" fill="#000"/>
<path d="M1517.3 1013.1 V1030.7" stroke="#000" stroke-width="3" fill="none"/>
<path d="M1507.5 1029.7 H1527.5 V1033.0 L1519.3 1066.9 H1515.7 L1507.5 1033.0 Z" fill="#000"/>
<path d="M1522.5 1266.0 V1284.0" stroke="#000" stroke-width="3" fill="none"/>
<path d="M1512.7 1283.0 H1532.7 V1286.3 L1524.5 1320.3 H1520.9 L1512.7 1286.3 Z" fill="#000"/>
</svg>
</body></html>
